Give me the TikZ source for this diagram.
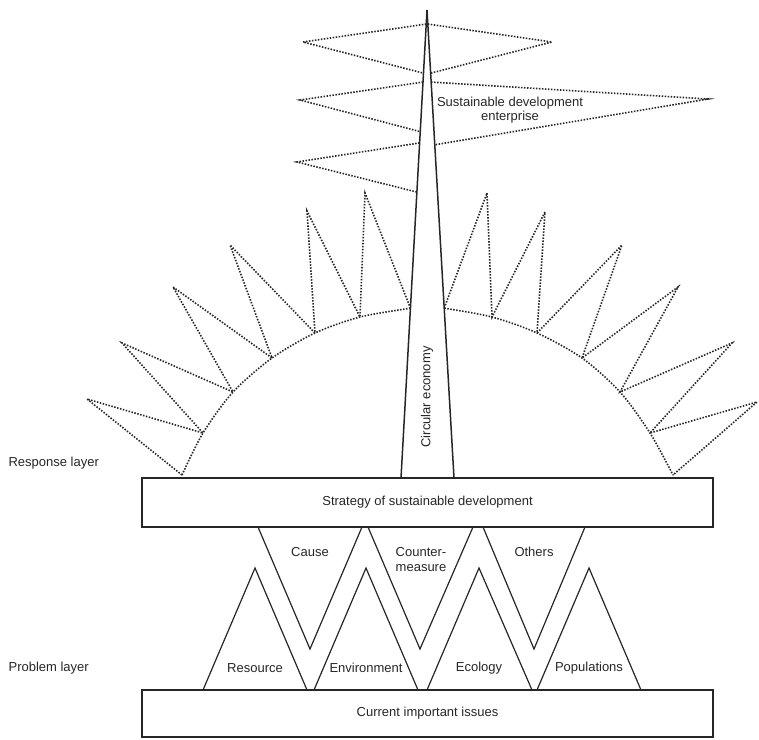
\documentclass[tikz,border=0pt]{standalone}
\usepackage{fontspec}
\setmainfont{Liberation Sans}
\usetikzlibrary{calc}

\begin{document}
\begin{tikzpicture}[x=1pt, y=-1pt, line width=1.2pt, draw=black!85,
    dotline/.style={line width=1.6pt, dash pattern=on 1.5pt off 1.5pt},
    every node/.style={font=\fontsize{13}{14.5}\selectfont, text=black!85, inner sep=0pt}]

  \useasboundingbox (0,0) rectangle (759,739);

  \coordinate (apex) at (427,10);
  \coordinate (pl) at (401,478);
  \coordinate (pr) at (454,478);

  \coordinate (l1) at (182,475);
  \coordinate (l2) at (203,433);
  \coordinate (l3) at (233,392);
  \coordinate (l4) at (272,358);
  \coordinate (l5) at (315,333);
  \coordinate (l6) at (360,317);
  \coordinate (l7) at ($(apex)!0.637!(pl)$);
  \coordinate (r7) at ($(apex)!0.637!(pr)$);
  \coordinate (r6) at (492,317);
  \coordinate (r5) at (537,333);
  \coordinate (r4) at (582,358);
  \coordinate (r3) at (620,392);
  \coordinate (r2) at (650,433);
  \coordinate (r1) at (673,475);

  \draw[dotline] plot[smooth] coordinates {(l1) (l2) (l3) (l4) (l5) (l6) (l7) (427,305) (r7) (r6) (r5) (r4) (r3) (r2) (r1)};

  \draw[dotline] (l1) -- (87,399) -- (l2) -- (122,343) -- (l3) -- (173,287) -- (l4)
    -- (230,245) -- (l5) -- (307,211) -- (l6) -- (365,193) -- (l7);
  \draw[dotline] (r7) -- (487,193) -- (r6) -- (545,212) -- (r5) -- (622,245) -- (r4)
    -- (678,287) -- (r3) -- (732,343) -- (r2) -- (757,402) -- (r1);

  \draw[line width=1.5pt, fill=white] (pl) -- (apex) -- (pr);

  \draw[dotline] ($(apex)!0.03!(pl)$) -- (303,42) -- ($(apex)!0.135!(pl)$);
  \draw[dotline] ($(apex)!0.03!(pr)$) -- (552,42) -- ($(apex)!0.135!(pr)$);
  \draw[dotline] ($(apex)!0.154!(pl)$) -- (300,100) -- ($(apex)!0.26!(pl)$);
  \draw[dotline] ($(apex)!0.154!(pr)$) -- (708,99) -- ($(apex)!0.288!(pr)$);
  \draw[dotline] ($(apex)!0.284!(pl)$) -- (297,162) -- ($(apex)!0.389!(pl)$);

  \node[draw=black!85, fill=white, minimum width=571pt, minimum height=49pt] (strategy) at (427.5,502.5)
    {Strategy of sustainable development};
  \node[draw=black!85, minimum width=571pt, minimum height=47pt] (issues) at (427.5,713.5)
    {Current important issues};

  \draw (258,527) -- (310,649) -- (362,527);
  \draw (368,527) -- (420,649) -- (473,527);
  \draw (483,527) -- (534,649) -- (585,527);

  \draw (203,690) -- (255,568) -- (307,690);
  \draw (314,690) -- (366,568) -- (418,690);
  \draw (427,690) -- (479,568) -- (532,690);
  \draw (537,690) -- (589,568) -- (641,690);

  \node[rotate=90] (circular) at (427,397) {Circular economy};
  \node[align=center] (enterprise) at (510,110) {Sustainable development\\enterprise};

  \node (cause) at (310,552) {Cause};
  \node[align=center] (counter) at (421,559.5) {Counter-\\measure};
  \node (others) at (534,552) {Others};

  \node (resource) at (255,668) {Resource};
  \node (environment) at (366,668) {Environment};
  \node (ecology) at (479,668) {Ecology};
  \node (populations) at (589,668) {Populations};

  \node[anchor=west] (response) at (8,463) {Response layer};
  \node[anchor=west] (problem) at (8,668) {Problem layer};

\end{tikzpicture}
\end{document}
